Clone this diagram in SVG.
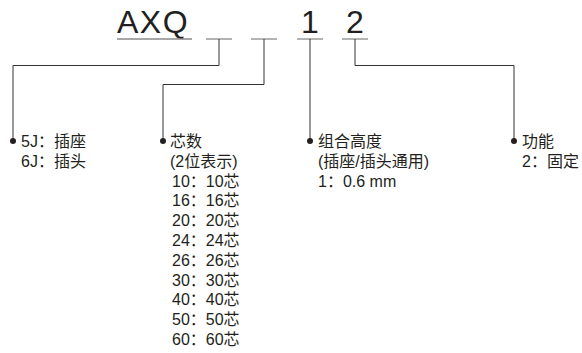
<svg xmlns="http://www.w3.org/2000/svg" width="582" height="353" viewBox="0 0 582 353">
<style>
.t{font-family:"Liberation Sans","Noto Sans CJK SC",sans-serif;font-size:16px;fill:#231f20}
.big{font-family:"Liberation Sans","Noto Sans CJK SC",sans-serif;font-size:32px;fill:#231f20}
.ul{stroke:#8a8a8a;stroke-width:1.3;fill:none}
.c{stroke:#333;stroke-width:1;fill:none}
.dot{fill:#231f20}
</style>
<rect width="582" height="353" fill="#fff"/>
<g id="code">
<text class="big" x="117" y="33" letter-spacing="1.5">AXQ</text>
<text class="big" x="310" y="33" text-anchor="middle">1</text>
<text class="big" x="355" y="33" text-anchor="middle">2</text>
<line class="ul" x1="117" y1="39" x2="192" y2="39"/>
<line class="ul" x1="206" y1="39" x2="232" y2="39"/>
<line class="ul" x1="251" y1="39" x2="277" y2="39"/>
<line class="ul" x1="297" y1="39" x2="323" y2="39"/>
<line class="ul" x1="342" y1="39" x2="368" y2="39"/>
</g>
<g id="connectors">
<polyline class="c" points="219,39 219,65.5 13,65.5 13,141"/>
<polyline class="c" points="264,39 264,84.5 163,84.5 163,141"/>
<polyline class="c" points="310,39 310,141"/>
<polyline class="c" points="355,39 355,65.5 514,65.5 514,141"/>
<circle class="dot" cx="13" cy="141" r="3"/>
<circle class="dot" cx="163" cy="141" r="3"/>
<circle class="dot" cx="310" cy="141" r="3"/>
<circle class="dot" cx="514" cy="141" r="3"/>
</g>
<g id="type">
<text class="t" x="21" y="147">5J：插座</text>
<text class="t" x="21" y="166.8">6J：插头</text>
</g>
<g id="cores">
<text class="t" x="170" y="147">芯数</text>
<text class="t" x="170" y="166.8">(2位表示)</text>
<text class="t" x="172" y="186.6">10：10芯</text>
<text class="t" x="172" y="206.4">16：16芯</text>
<text class="t" x="172" y="226.2">20：20芯</text>
<text class="t" x="172" y="246">24：24芯</text>
<text class="t" x="172" y="265.8">26：26芯</text>
<text class="t" x="172" y="285.6">30：30芯</text>
<text class="t" x="172" y="305.4">40：40芯</text>
<text class="t" x="172" y="325.2">50：50芯</text>
<text class="t" x="172" y="345">60：60芯</text>
</g>
<g id="height">
<text class="t" x="318" y="147">组合高度</text>
<text class="t" x="318" y="166.8">(插座/插头通用)</text>
<text class="t" x="318" y="186.6">1：0.6 mm</text>
</g>
<g id="function">
<text class="t" x="522" y="147">功能</text>
<text class="t" x="522" y="166.8">2：固定</text>
</g>
</svg>
